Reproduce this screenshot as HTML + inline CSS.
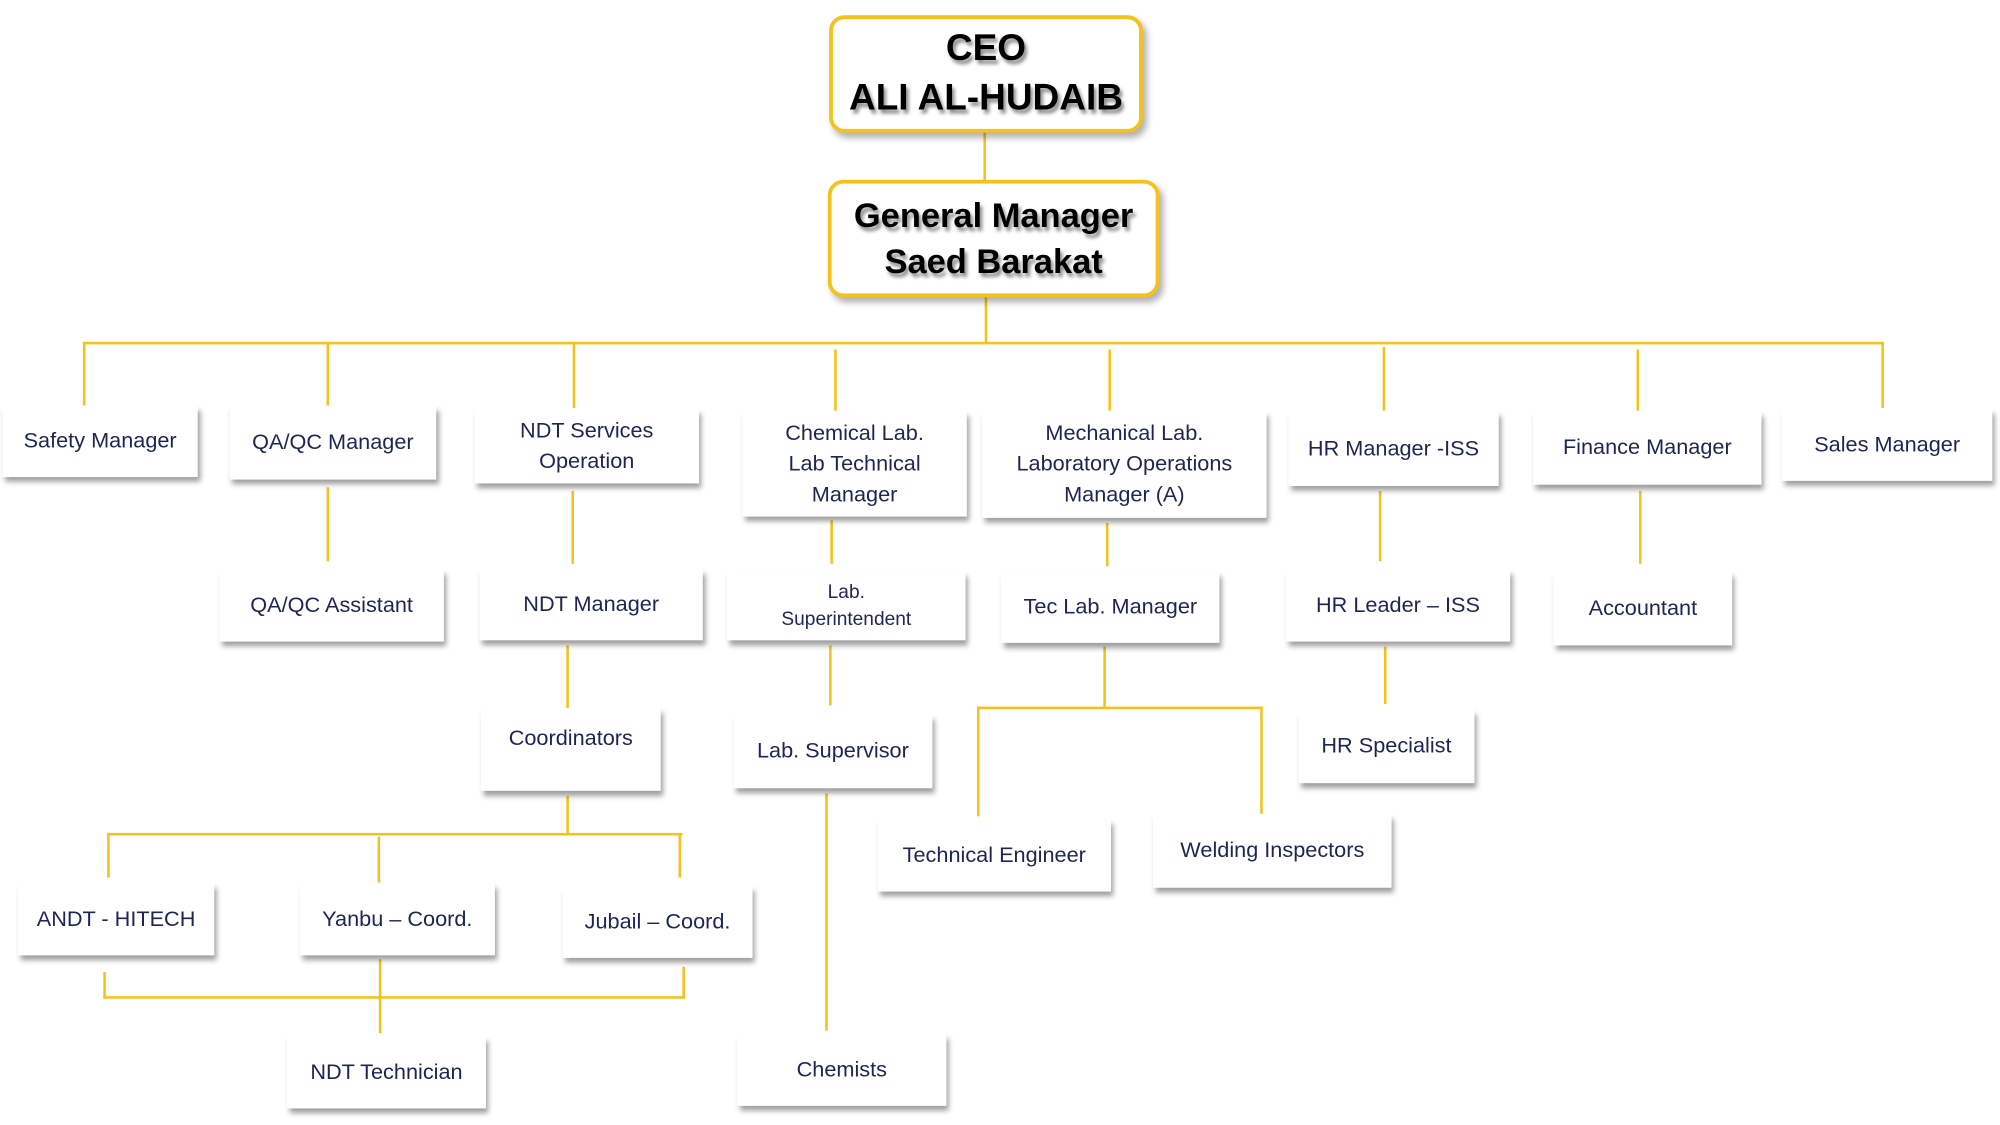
<!DOCTYPE html>
<html><head><meta charset="utf-8"><style>
html,body{margin:0;padding:0;background:#fff;}
body{width:2000px;height:1125px;overflow:hidden;position:relative;}
#c{position:absolute;left:0;top:0;width:1568px;height:882px;transform:scale(1.27551);transform-origin:0 0;}
.b{position:absolute;background:#fff;box-shadow:2px 4px 4px rgba(0,0,0,0.38);display:flex;align-items:center;justify-content:center;text-align:center;color:#1c2654;font-family:"Liberation Sans",sans-serif;font-size:17px;line-height:24px;box-sizing:border-box;}
.y{border:3px solid #f5c21b;border-radius:12px;color:#000;font-weight:bold;font-size:27px;line-height:36px;text-shadow:2px 3px 3px rgba(0,0,0,0.45);box-shadow:3px 4px 5px rgba(0,0,0,0.3);}
.l{position:absolute;background:#f5c21b;}
</style></head><body><div id="c">
<div class="l" style="left:771px;top:104px;width:2px;height:37px"></div>
<div class="l" style="left:772px;top:233px;width:2px;height:36px"></div>
<div class="l" style="left:65px;top:268px;width:1412px;height:2px"></div>
<div class="l" style="left:65px;top:268px;width:2px;height:50px"></div>
<div class="l" style="left:256px;top:268px;width:2px;height:50px"></div>
<div class="l" style="left:449px;top:268px;width:2px;height:52px"></div>
<div class="l" style="left:654px;top:274px;width:2px;height:48px"></div>
<div class="l" style="left:869px;top:274px;width:2px;height:48px"></div>
<div class="l" style="left:1084px;top:272px;width:2px;height:50px"></div>
<div class="l" style="left:1283px;top:274px;width:2px;height:48px"></div>
<div class="l" style="left:1475px;top:268px;width:2px;height:52px"></div>

<div class="l" style="left:256px;top:382px;width:2px;height:58px"></div>
<div class="l" style="left:448px;top:385px;width:2px;height:57px"></div>
<div class="l" style="left:651px;top:408px;width:2px;height:34px"></div>
<div class="l" style="left:867px;top:410px;width:2px;height:34px"></div>
<div class="l" style="left:1081px;top:385px;width:2px;height:55px"></div>
<div class="l" style="left:1285px;top:385px;width:2px;height:57px"></div>

<div class="l" style="left:444px;top:506px;width:2px;height:56px"></div>
<div class="l" style="left:650px;top:506px;width:2px;height:47px"></div>
<div class="l" style="left:865px;top:507px;width:2px;height:48px"></div>
<div class="l" style="left:766px;top:554px;width:224px;height:2px"></div>
<div class="l" style="left:766px;top:554px;width:2px;height:86px"></div>
<div class="l" style="left:988px;top:554px;width:2px;height:84px"></div>
<div class="l" style="left:1085px;top:507px;width:2px;height:45px"></div>
<div class="l" style="left:647px;top:622px;width:2px;height:186px"></div>

<div class="l" style="left:444px;top:624px;width:2px;height:30px"></div>
<div class="l" style="left:84px;top:653px;width:451px;height:2px"></div>
<div class="l" style="left:84px;top:653px;width:2px;height:35px"></div>
<div class="l" style="left:296px;top:656px;width:2px;height:36px"></div>
<div class="l" style="left:532px;top:653px;width:2px;height:35px"></div>
<div class="l" style="left:81px;top:762px;width:2px;height:21px"></div>
<div class="l" style="left:535px;top:758px;width:2px;height:25px"></div>
<div class="l" style="left:81px;top:781px;width:456px;height:2px"></div>
<div class="l" style="left:297px;top:752px;width:2px;height:58px"></div>

<div class="b y" style="left:650px;top:12px;width:246px;height:92px;font-size:29px;line-height:39px">CEO<br>ALI AL-HUDAIB</div>
<div class="b y" style="left:649px;top:141px;width:260px;height:92px">General Manager<br>Saed Barakat</div>

<div class="b" style="left:2px;top:318px;width:153px;height:56px">Safety Manager</div>
<div class="b" style="left:180px;top:318px;width:162px;height:58px">QA/QC Manager</div>
<div class="b" style="left:372px;top:320px;width:176px;height:59px">NDT Services<br>Operation</div>
<div class="b" style="left:582px;top:322px;width:176px;height:83px">Chemical Lab.<br>Lab Technical<br>Manager</div>
<div class="b" style="left:770px;top:322px;width:223px;height:84px">Mechanical Lab.<br>Laboratory Operations<br>Manager (A)</div>
<div class="b" style="left:1010px;top:322px;width:165px;height:59px">HR Manager -ISS</div>
<div class="b" style="left:1202px;top:322px;width:179px;height:58px">Finance Manager</div>
<div class="b" style="left:1397px;top:320px;width:165px;height:57px">Sales Manager</div>

<div class="b" style="left:172px;top:446px;width:176px;height:57px">QA/QC Assistant</div>
<div class="b" style="left:376px;top:446px;width:175px;height:56px">NDT Manager</div>
<div class="b" style="left:570px;top:448px;width:187px;height:54px;font-size:15px;line-height:21px">Lab.<br>Superintendent</div>
<div class="b" style="left:785px;top:448px;width:171px;height:56px">Tec Lab. Manager</div>
<div class="b" style="left:1008px;top:446px;width:176px;height:57px">HR Leader – ISS</div>
<div class="b" style="left:1218px;top:448px;width:140px;height:58px">Accountant</div>

<div class="b" style="left:377px;top:555px;width:141px;height:65px;align-items:flex-start;padding-top:12px">Coordinators</div>
<div class="b" style="left:575px;top:560px;width:156px;height:58px">Lab. Supervisor</div>
<div class="b" style="left:688px;top:642px;width:183px;height:57px">Technical Engineer</div>
<div class="b" style="left:904px;top:638px;width:187px;height:58px">Welding Inspectors</div>
<div class="b" style="left:1018px;top:556px;width:138px;height:58px">HR Specialist</div>

<div class="b" style="left:14px;top:692px;width:154px;height:57px">ANDT - HITECH</div>
<div class="b" style="left:235px;top:692px;width:153px;height:57px">Yanbu – Coord.</div>
<div class="b" style="left:441px;top:694px;width:149px;height:57px">Jubail – Coord.</div>
<div class="b" style="left:225px;top:812px;width:156px;height:57px">NDT Technician</div>
<div class="b" style="left:578px;top:810px;width:164px;height:57px">Chemists</div>
</div></body></html>
